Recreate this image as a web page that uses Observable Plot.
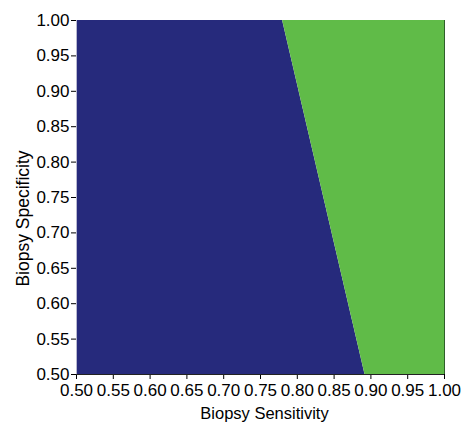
<!DOCTYPE html>
<html><head><meta charset="utf-8">
<script src="https://cdn.jsdelivr.net/npm/d3@7"></script>
<script src="https://cdn.jsdelivr.net/npm/@observablehq/plot@0.6"></script>
<style>body{margin:0;background:#fff;font-family:"Liberation Sans",Arial,sans-serif}</style>
</head><body><div id="chart"></div>
<script>
const boundary = [{spec: 1.00, sens: 0.78}, {spec: 0.50, sens: 0.892}];
const ticks = [0.50,0.55,0.60,0.65,0.70,0.75,0.80,0.85,0.90,0.95,1.00];
const xLabel = "Biopsy Sensitivity";
const yLabel = "Biopsy Specificity";
const colors = {biopsy: "#262a7c", other: "#60bb48"};

const chart = Plot.plot({
  width: 471, height: 434,
  marginLeft: 76, marginRight: 27, marginTop: 20, marginBottom: 60,
  style: {fontFamily: "Liberation Sans, Arial, sans-serif", fontSize: "17px", color: "#000", background: "#fff"},
  x: {domain: [0.5, 1]},
  y: {domain: [0.5, 1]},
  marks: [
    Plot.areaX(boundary, {y: "spec", x1: 0.5, x2: "sens", fill: colors.biopsy}),
    Plot.areaX(boundary, {y: "spec", x1: "sens", x2: 1, fill: colors.other}),
    Plot.ruleX([1], {stroke: "#2f5f2a"}),
    Plot.axisX({ticks, tickFormat: d3.format(".2f"), tickSize: 5, tickPadding: 4, label: null, fontSize: 17}),
    Plot.axisY({ticks, tickFormat: d3.format(".2f"), tickSize: 5, tickPadding: 2, label: null, fontSize: 17}),
    Plot.text([xLabel], {frameAnchor: "bottom", dx: 4, dy: 44, fontSize: 16.5, lineAnchor: "bottom", text: d => d}),
    Plot.text([yLabel], {frameAnchor: "left", textAnchor: "middle", lineAnchor: "middle", dx: -53, dy: 21, rotate: -90, fontSize: 17.5, text: d => d}),
    Plot.ruleX([0.5], {stroke: "#b8b8d0"}),
    Plot.ruleY([0.5], {stroke: "#222"})
  ]
});
document.getElementById("chart").appendChild(chart);
</script></body></html>
